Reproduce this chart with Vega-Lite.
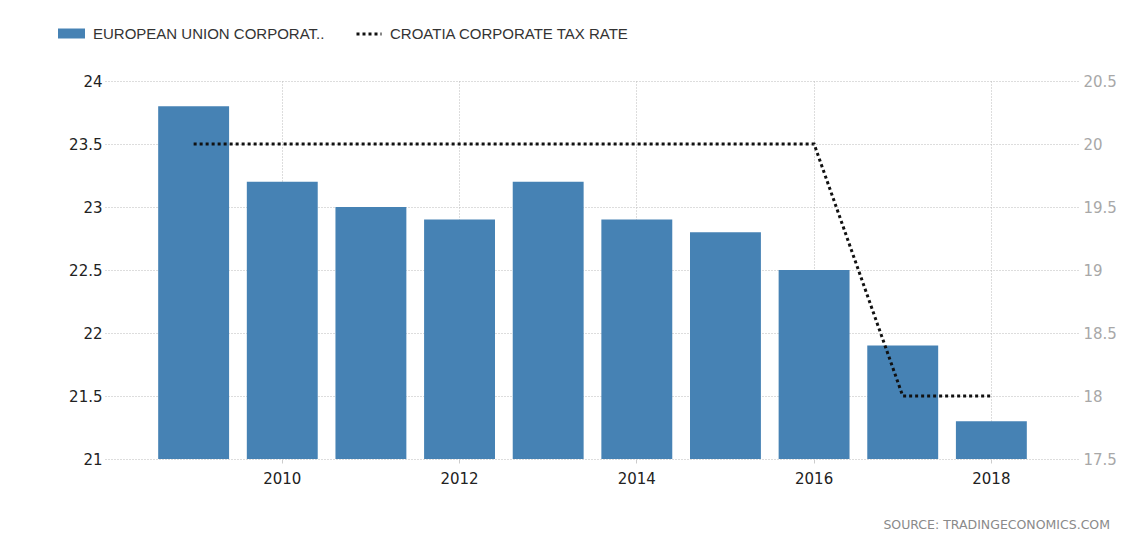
{
  "$schema": "https://vega.github.io/schema/vega-lite/v6.json",
  "width": 975,
  "height": 378,
  "autosize": {"type": "none"},
  "padding": {"left": 105, "top": 81, "right": 63, "bottom": 76},
  "background": "white",
  "config": {
    "view": {"stroke": null},
    "legend": {"padding": 0, "labelLimit": 400}
  },
  "title": {
    "text": "SOURCE:  TRADINGECONOMICS.COM",
    "orient": "bottom",
    "anchor": "end",
    "frame": "group",
    "dx": 30,
    "offset": 33,
    "font": "DejaVu Sans",
    "fontSize": 12.5,
    "fontWeight": "normal",
    "color": "#8a8a8a"
  },
  "data": {
    "values": [
      {"year": 2009, "eu": 23.8, "hr": 20},
      {"year": 2010, "eu": 23.2, "hr": 20},
      {"year": 2011, "eu": 23.0, "hr": 20},
      {"year": 2012, "eu": 22.9, "hr": 20},
      {"year": 2013, "eu": 23.2, "hr": 20},
      {"year": 2014, "eu": 22.9, "hr": 20},
      {"year": 2015, "eu": 22.8, "hr": 20},
      {"year": 2016, "eu": 22.5, "hr": 20},
      {"year": 2017, "eu": 21.9, "hr": 18},
      {"year": 2018, "eu": 21.3, "hr": 18}
    ]
  },
  "layer": [
    {
      "mark": {"type": "bar", "clip": true},
      "encoding": {
        "x": {
          "field": "year",
          "type": "ordinal",
          "scale": {"paddingInner": 0.2, "paddingOuter": 0.6},
          "axis": {
            "values": [2010, 2012, 2014, 2016, 2018],
            "title": null,
            "domain": false,
            "ticks": true,
            "tickSize": 4,
            "tickColor": "#cccccc",
            "labelFont": "DejaVu Sans",
            "labelFontSize": 15,
            "labelColor": "#222222",
            "labelPadding": 8,
            "labelAngle": 0,
            "grid": true,
            "gridDash": [1, 2],
            "gridColor": "#bbbbbb",
            "bandPosition": 0.5
          }
        },
        "y": {
          "field": "eu",
          "type": "quantitative",
          "scale": {"domain": [21, 24], "zero": false, "nice": false},
          "axis": {
            "values": [21, 21.5, 22, 22.5, 23, 23.5, 24],
            "format": "~r",
            "title": null,
            "domain": false,
            "ticks": false,
            "labelPadding": 3,
            "labelFont": "DejaVu Sans",
            "labelFontSize": 15,
            "labelColor": "#222222",
            "grid": true,
            "gridDash": [1, 2],
            "gridColor": "#bbbbbb"
          }
        },
        "y2": {"datum": 21},
        "color": {
          "datum": "EUROPEAN UNION CORPORAT..",
          "scale": {"range": ["#4682b4"]},
          "legend": {
            "orient": "none",
            "legendX": -47,
            "legendY": -61,
            "title": null,
            "symbolType": "M-1,-0.37H1V0.37H-1Z",
            "symbolSize": 729,
            "symbolStrokeWidth": 0,
            "symbolOpacity": 1,
            "labelFont": "Liberation Sans",
            "labelFontSize": 15,
            "labelColor": "#333333",
            "labelOffset": 8
          }
        }
      }
    },
    {
      "mark": {"type": "line", "color": "#111111", "strokeWidth": 3, "strokeCap": "butt"},
      "encoding": {
        "x": {"field": "year", "type": "ordinal", "bandPosition": 0.5},
        "y": {
          "field": "hr",
          "type": "quantitative",
          "scale": {"domain": [17.5, 20.5], "zero": false, "nice": false},
          "axis": {
            "orient": "right",
            "values": [17.5, 18, 18.5, 19, 19.5, 20, 20.5],
            "format": "~r",
            "title": null,
            "domain": false,
            "ticks": false,
            "grid": false,
            "labelPadding": 3,
            "labelFont": "DejaVu Sans",
            "labelFontSize": 15,
            "labelColor": "#a8a8a8"
          }
        },
        "strokeDash": {
          "datum": "CROATIA CORPORATE TAX RATE",
          "scale": {"range": [[3, 3]]},
          "legend": {
            "orient": "none",
            "legendX": 250,
            "legendY": -61,
            "title": null,
            "symbolType": "stroke",
            "symbolSize": 625,
            "symbolStrokeWidth": 3,
            "symbolStrokeColor": "#111111",
            "labelFont": "Liberation Sans",
            "labelFontSize": 15,
            "labelColor": "#333333",
            "labelOffset": 7
          }
        }
      }
    }
  ],
  "resolve": {"scale": {"y": "independent"}}
}
